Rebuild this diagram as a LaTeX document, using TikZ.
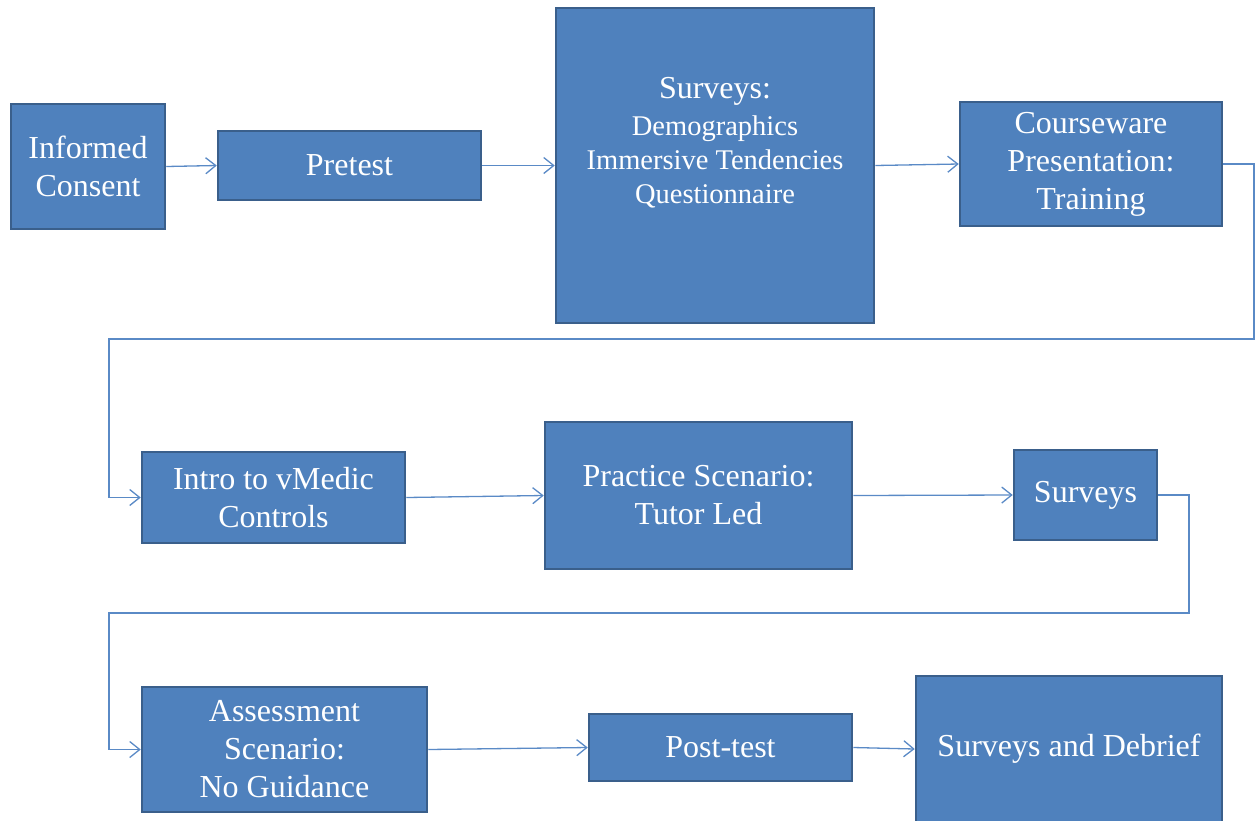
\documentclass[tikz,border=0pt]{standalone}
\usepackage{fontspec}
\setmainfont{Liberation Serif}
\usetikzlibrary{arrows.meta}
\definecolor{boxfill}{HTML}{4F81BD}
\definecolor{boxline}{HTML}{3A5F8B}
\definecolor{connc}{HTML}{5A8AC6}
\begin{document}
\begin{tikzpicture}[x=1pt,y=-1pt,
  blk/.style={draw=boxline, fill=boxfill, line width=2.5pt, inner sep=0pt,
    text=white, align=center, font=\fontsize{32}{38}\selectfont},
  txt/.style={inner sep=0pt, text=white, align=center},
  conn/.style={draw=connc, line width=1.3pt, -{Straight Barb[length=10pt,width=16pt]}}]
\useasboundingbox (0,0) rectangle (1255,820);
\clip (0,0) rectangle (1255,820);
% row 1
\node[blk, minimum width=154pt, minimum height=125pt] (ic) at (88,166.5) {Informed\\Consent};
\node[blk, minimum width=263pt, minimum height=69pt] (pre) at (349.5,165.5) {Pretest};
\node[blk, minimum width=318pt, minimum height=315pt] (sv1) at (715,165.5) {};
\node[txt, font=\fontsize{28.5}{34}\selectfont] (sv1t) at (715,143)
  {{\fontsize{32}{34}\selectfont Surveys:}\\[3pt] Demographics\\ Immersive Tendencies\\ Questionnaire};
\node[blk, minimum width=262pt, minimum height=124pt] (cw) at (1091,164) {Courseware\\Presentation:\\Training};
% row 2
\node[blk, minimum width=263pt, minimum height=91pt] (intro) at (273.5,497.5) {Intro to vMedic\\Controls};
\node[blk, minimum width=307pt, minimum height=147pt] (prac) at (698.5,495.5) {Practice Scenario:\\Tutor Led};
\node[blk, minimum width=143pt, minimum height=90pt] (sv2) at (1085.5,495) {Surveys};
% row 3
\node[blk, minimum width=285pt, minimum height=125pt] (asm) at (284.5,749.5) {Assessment\\Scenario:\\No Guidance};
\node[blk, minimum width=263pt, minimum height=67pt] (post) at (720.5,747.5) {Post-test};
\node[blk, minimum width=306pt, minimum height=146pt] (deb) at (1069,749) {Surveys and Debrief};
% turn points
\coordinate (r1) at (1254,339);
\coordinate (l1) at (109,339);
\coordinate (r2) at (1189,613);
\coordinate (l2) at (109,613);
% connectors
\draw[conn] (ic.east) -- (pre.west);
\draw[conn] (pre.east) -- (sv1.west);
\draw[conn] (sv1.east) -- (cw.west);
\draw[conn] (cw.east) -- (cw.east -| r1) -- (r1) -- (l1) -- (l1 |- intro.west) -- (intro.west);
\draw[conn] (intro.east) -- (prac.west);
\draw[conn] (prac.east) -- (sv2.west);
\draw[conn] (sv2.east) -- (sv2.east -| r2) -- (r2) -- (l2) -- (l2 |- asm.west) -- (asm.west);
\draw[conn] (asm.east) -- (post.west);
\draw[conn] (post.east) -- (deb.west);
\end{tikzpicture}
\end{document}
